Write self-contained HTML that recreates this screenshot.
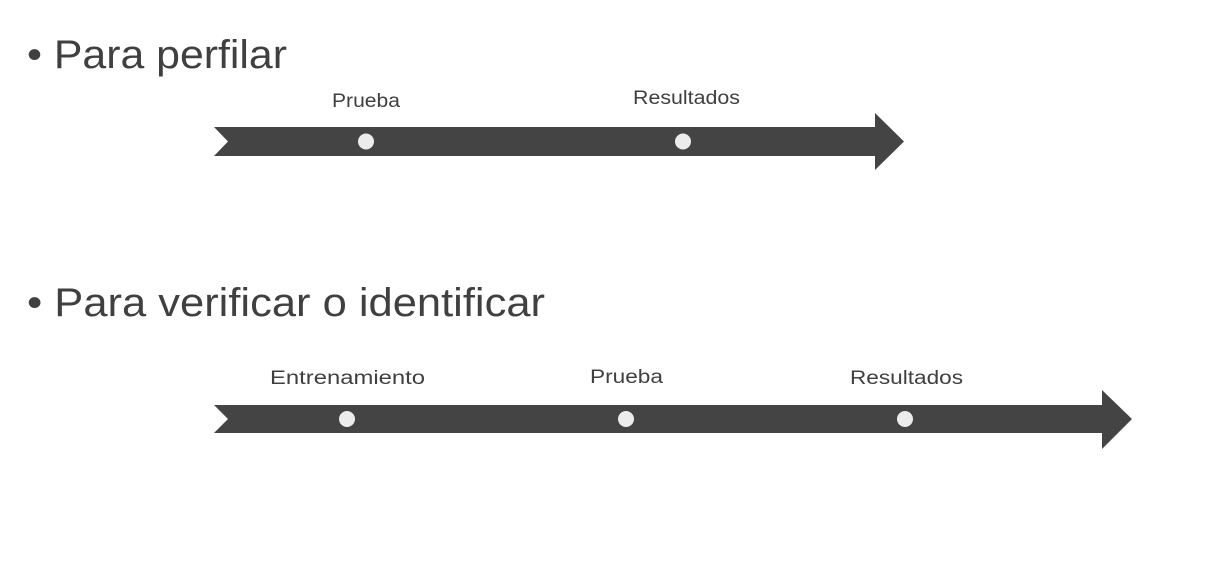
<!DOCTYPE html>
<html><head><meta charset="utf-8"><style>
html,body{margin:0;padding:0;background:#fff;}
svg{display:block;}
text{font-family:"Liberation Sans",sans-serif;fill:#404040;}
</style></head><body>
<svg width="1220" height="566" viewBox="0 0 1220 566" xmlns="http://www.w3.org/2000/svg">
<rect width="1220" height="566" fill="#fff"/>
<text x="27" y="68" font-size="40" textLength="260" lengthAdjust="spacingAndGlyphs">• Para perfilar</text>
<text x="27" y="316" font-size="40" textLength="518" lengthAdjust="spacingAndGlyphs">• Para verificar o identificar</text>

<polygon points="214,127 875,127 875,113 904,141.5 875,170 875,156 214,156 228,141.5" fill="#444"/>
<circle cx="366" cy="141.5" r="8" fill="#ececec"/>
<circle cx="683" cy="141.5" r="8" fill="#ececec"/>
<text x="332" y="107" font-size="19" textLength="68" lengthAdjust="spacingAndGlyphs">Prueba</text>
<text x="633" y="104" font-size="19" textLength="107" lengthAdjust="spacingAndGlyphs">Resultados</text>

<polygon points="214,405 1102,405 1102,390 1132,419 1102,449 1102,433 214,433 228,419" fill="#444"/>
<circle cx="347" cy="419" r="8" fill="#ececec"/>
<circle cx="626" cy="419" r="8" fill="#ececec"/>
<circle cx="905" cy="419" r="8" fill="#ececec"/>
<text x="270" y="384" font-size="19" textLength="155" lengthAdjust="spacingAndGlyphs">Entrenamiento</text>
<text x="590" y="383" font-size="19" textLength="73" lengthAdjust="spacingAndGlyphs">Prueba</text>
<text x="850" y="384" font-size="19" textLength="113" lengthAdjust="spacingAndGlyphs">Resultados</text>
</svg>
</body></html>
